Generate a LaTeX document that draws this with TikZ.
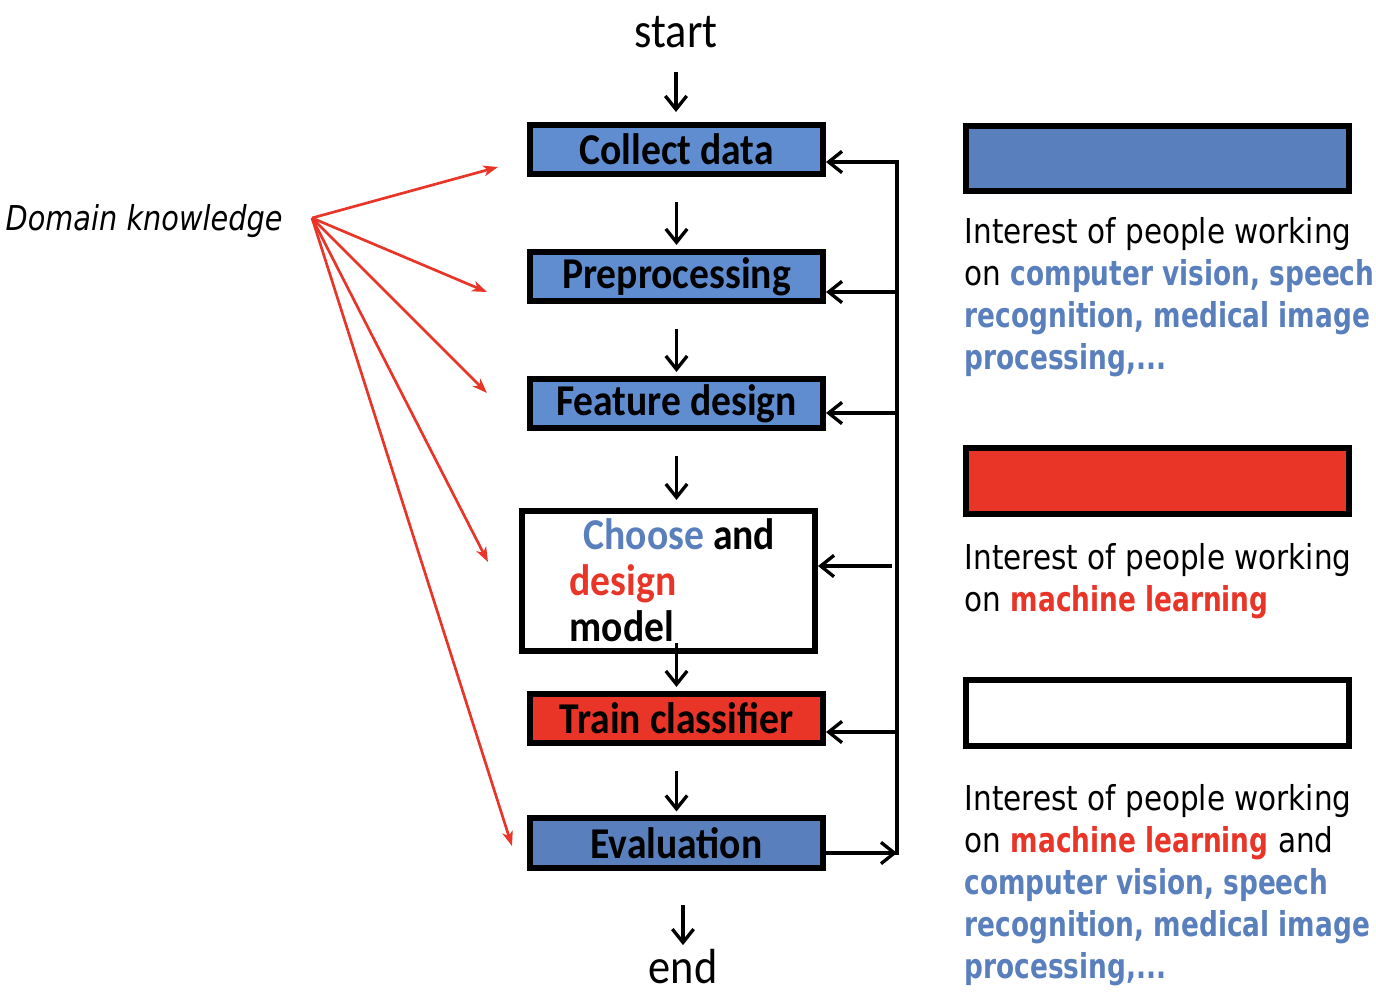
\documentclass[tikz,border=0pt]{standalone}
\usepackage{fontspec}
\usetikzlibrary{arrows.meta}

\newfontfamily\boxfont[FakeStretch=0.9]{Carlito}
\newfontfamily\legendfont[FakeStretch=0.86]{DejaVu Sans}
\newfontfamily\legendbold[FakeStretch=0.77]{DejaVu Sans}
\newfontfamily\domainfont[FakeStretch=0.84]{DejaVu Sans}

\definecolor{stepblue}{RGB}{95,141,208}
\definecolor{evalblue}{RGB}{90,127,189}
\definecolor{mlred}{RGB}{232,53,40}

\newcommand{\cvpart}[1]{{\legendbold\bfseries\color{evalblue}#1}}
\newcommand{\mlpart}[1]{{\legendbold\bfseries\color{mlred}#1}}

\begin{document}
\begin{tikzpicture}[x=0.75pt, y=-0.75pt, line width=2.5pt,
  >={Straight Barb[length=10pt,width=16pt]},
  stepbox/.style={draw, line width=4.3pt, fill=stepblue, minimum width=220pt,
    minimum height=37pt, inner sep=0pt, font=\boxfont\bfseries\fontsize{33}{36}\selectfont},
  modeltext/.style={anchor=base west, inner sep=0pt, font=\boxfont\bfseries\fontsize{33}{36}\selectfont},
  startend/.style={anchor=base, inner sep=0pt, font=\boxfont\fontsize{37}{40}\selectfont},
  legendbox/.style={draw, line width=4.3pt, minimum width=287.5pt, minimum height=49pt, inner sep=0pt},
  legendtext/.style={anchor=north west, align=left, inner sep=0pt,
    font=\legendfont\fontsize{25.7}{31.5}\selectfont},
  flowarrow/.style={->, shorten <=19pt, shorten >=3pt},
  domarrow/.style={-{Stealth[length=11pt,width=8pt,inset=3pt]}, color=mlred, line width=2pt}]

\useasboundingbox (0,0) rectangle (1376,996);

% flow steps
\node[startend] (start) at (676,47) {start};
\node[stepbox] (collect) at (676.5,149.5) {Collect data};
\node[stepbox] (prep) at (676.5,276.5) {Preprocessing};
\node[stepbox] (feature) at (676.5,403.5) {Feature design};
\node[stepbox, fill=white, minimum height=105.25pt] (model) at (668.5,581) {};
\node[modeltext] (choose) at (582,549) {\textcolor{evalblue}{Choose} and};
\node[modeltext] (design) at (568,595) {\textcolor{mlred}{design}};
\node[modeltext] (modelword) at (568,641) {model};
\node[stepbox, fill=mlred] (train) at (676.5,718.5) {Train classifier};
\node[stepbox, fill=evalblue] (eval) at (676.5,843) {Evaluation};
\node[startend] (end) at (683,983) {end};

% arrows
\draw[flowarrow, shorten <=17pt, shorten >=7.5pt] (start) -- (start |- collect.north);
\draw[flowarrow] (collect) -- (prep);
\draw[flowarrow] (prep) -- (feature);
\draw[flowarrow, shorten >=6pt] (feature.south) -- (feature.south |- model.north);
\draw[flowarrow, shorten <=-8.25pt] (train.north |- model.south) -- (train.north);
\draw[flowarrow] (train) -- (eval);
\draw[flowarrow, shorten <=26pt, shorten >=1.5pt] (end |- eval.south) -- (end.north);

% feedback line
\coordinate (fbtop) at (897,160);
\coordinate (fbbot) at (897,855);
\coordinate (fb1) at (897,162);
\coordinate (fb2) at (897,292);
\coordinate (fb3) at (897,413);
\coordinate (fb4) at (892,566);
\coordinate (fb5) at (897,732);
\coordinate (fb6) at (897,853);
\draw[line width=3pt] (fbtop) -- (fbbot);
\draw[->] (fb1) -- (fb1 -| collect.east);
\draw[->] (fb2) -- (fb2 -| prep.east);
\draw[->] (fb3) -- (fb3 -| feature.east);
\draw[->] (fb4) -- (fb4 -| model.east);
\draw[->] (fb5) -- (fb5 -| train.east);
\draw[->] (eval.east |- fb6) -- (fb6);

% domain knowledge
\node[anchor=base west, inner sep=0pt, font=\domainfont\itshape\fontsize{25.7}{30}\selectfont]
  (domain) at (4,230) {Domain knowledge};
\coordinate (fan) at (312,218);
\coordinate (dk1) at (498,167);
\coordinate (dk2) at (487,292);
\coordinate (dk3) at (487,393);
\coordinate (dk4) at (488,562);
\coordinate (dk5) at (512,846);
\draw[domarrow] (fan) -- (dk1);
\draw[domarrow] (fan) -- (dk2);
\draw[domarrow] (fan) -- (dk3);
\draw[domarrow] (fan) -- (dk4);
\draw[domarrow] (fan) -- (dk5);

% legend
\node[legendbox, fill=evalblue] (cvbox) at (1157.5,158.5) {};
\node[legendtext] (cvnote) at (963,216) {Interest of people working\\
  on \cvpart{computer vision, speech}\\
  \cvpart{recognition, medical image}\\
  \cvpart{processing,...}};
\node[legendbox, fill=mlred] (mlbox) at (1157.5,481) {};
\node[legendtext] (mlnote) at (963,542) {Interest of people working\\
  on \mlpart{machine learning}};
\node[legendbox, fill=white] (bothbox) at (1157.5,713) {};
\node[legendtext] (bothnote) at (963,783) {Interest of people working\\
  on \mlpart{machine learning} and\\
  \cvpart{computer vision, speech}\\
  \cvpart{recognition, medical image}\\
  \cvpart{processing,...}};

\end{tikzpicture}
\end{document}
